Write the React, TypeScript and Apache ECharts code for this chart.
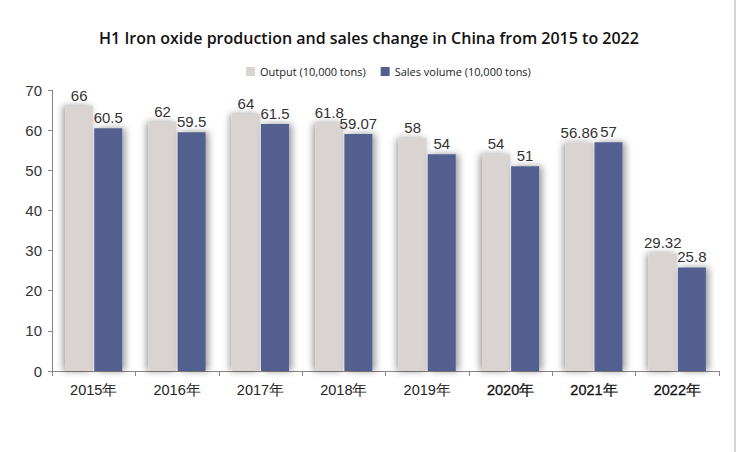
import React, { useEffect, useRef } from "react";
import * as echarts from "echarts";

const categories = ["2015年", "2016年", "2017年", "2018年", "2019年", "2020年", "2021年", "2022年"];
const outputValues = [66, 62, 64, 61.8, 58, 54, 56.86, 29.32];
const salesValues = [60.5, 59.5, 61.5, 59.07, 54, 51, 57, 25.8];
const seriesNames = ["Output (10,000 tons)", "Sales volume (10,000 tons)"];
const titleText = "H1 Iron oxide production and sales change in China from 2015 to 2022";

export default function App() {
  const ref = useRef<HTMLDivElement>(null);
  useEffect(() => {
    if (!ref.current) return;
    const chart = echarts.init(ref.current, null, { renderer: "svg" });
    const labelStyle = {
      show: true,
      position: "top" as const,
      distance: 3,
      color: "#333",
      fontFamily: "Liberation Sans, Arial, sans-serif",
      fontSize: 15,
    };
    chart.setOption({
      animation: false,
      backgroundColor: "#ffffff",
      title: {
        text: titleText,
        left: "center",
        top: 25,
        textStyle: {
          fontFamily: "Open Sans, sans-serif",
          fontWeight: 600,
          fontSize: 16,
          color: "#111",
        },
      },
      legend: {
        data: seriesNames,
        top: 61,
        left: 241,
        itemWidth: 9,
        itemHeight: 9,
        itemGap: 15,
        icon: "rect",
        textStyle: {
          fontFamily: "Open Sans, sans-serif",
          fontSize: 11,
          color: "#222",
        },
      },
      grid: { left: 52, right: 19, top: 90, bottom: 81 },
      xAxis: {
        type: "category",
        data: categories,
        axisLine: { lineStyle: { color: "#8c8484", width: 1 } },
        axisTick: { show: true, length: 5, lineStyle: { color: "#8c8484" } },
        axisLabel: {
          interval: 0,
          color: "#222",
          fontFamily: "Liberation Sans, Arial, sans-serif",
          fontSize: 14.5,
          margin: 11,
          formatter: (v: string, i: number) => (i >= 5 ? `{b|${v}}` : v),
          rich: {
            b: {
              fontFamily: "Liberation Sans, Arial, sans-serif",
              fontSize: 14.5,
              textBorderColor: "#222",
              textBorderWidth: 0.3,
              color: "#111",
            },
          },
        },
      },
      yAxis: {
        type: "value",
        min: 0,
        max: 70,
        interval: 10,
        splitLine: { show: false },
        axisLine: { show: true, lineStyle: { color: "#8c8484", width: 1 } },
        axisTick: { show: true, length: 4, lineStyle: { color: "#8c8484" } },
        axisLabel: {
          color: "#333",
          fontFamily: "Liberation Sans, Arial, sans-serif",
          fontSize: 15,
          margin: 10,
        },
      },
      series: [
        {
          name: seriesNames[0],
          type: "bar",
          data: outputValues,
          barWidth: 28,
          barGap: "4%",
          itemStyle: {
            color: "#d9d4d2",
            shadowColor: "rgba(0,0,0,0.4)",
            shadowBlur: 7,
            shadowOffsetX: -2,
            shadowOffsetY: 0,
          },
          label: labelStyle,
        },
        {
          name: seriesNames[1],
          type: "bar",
          data: salesValues,
          barWidth: 28,
          barGap: "4%",
          itemStyle: {
            color: "#53608f",
            shadowColor: "rgba(0,0,0,0.4)",
            shadowBlur: 7,
            shadowOffsetX: 3,
            shadowOffsetY: 0,
          },
          label: labelStyle,
        },
      ],
      graphic: [
        {
          type: "line",
          shape: { x1: 735, y1: 0, x2: 735, y2: 452 },
          style: { stroke: "#b0a8a8", lineWidth: 1 },
        },
      ],
    });
    return () => chart.dispose();
  }, []);
  return <div ref={ref} style={{ width: 738, height: 452, position: "absolute", left: 0, top: 0 }} />;
}
